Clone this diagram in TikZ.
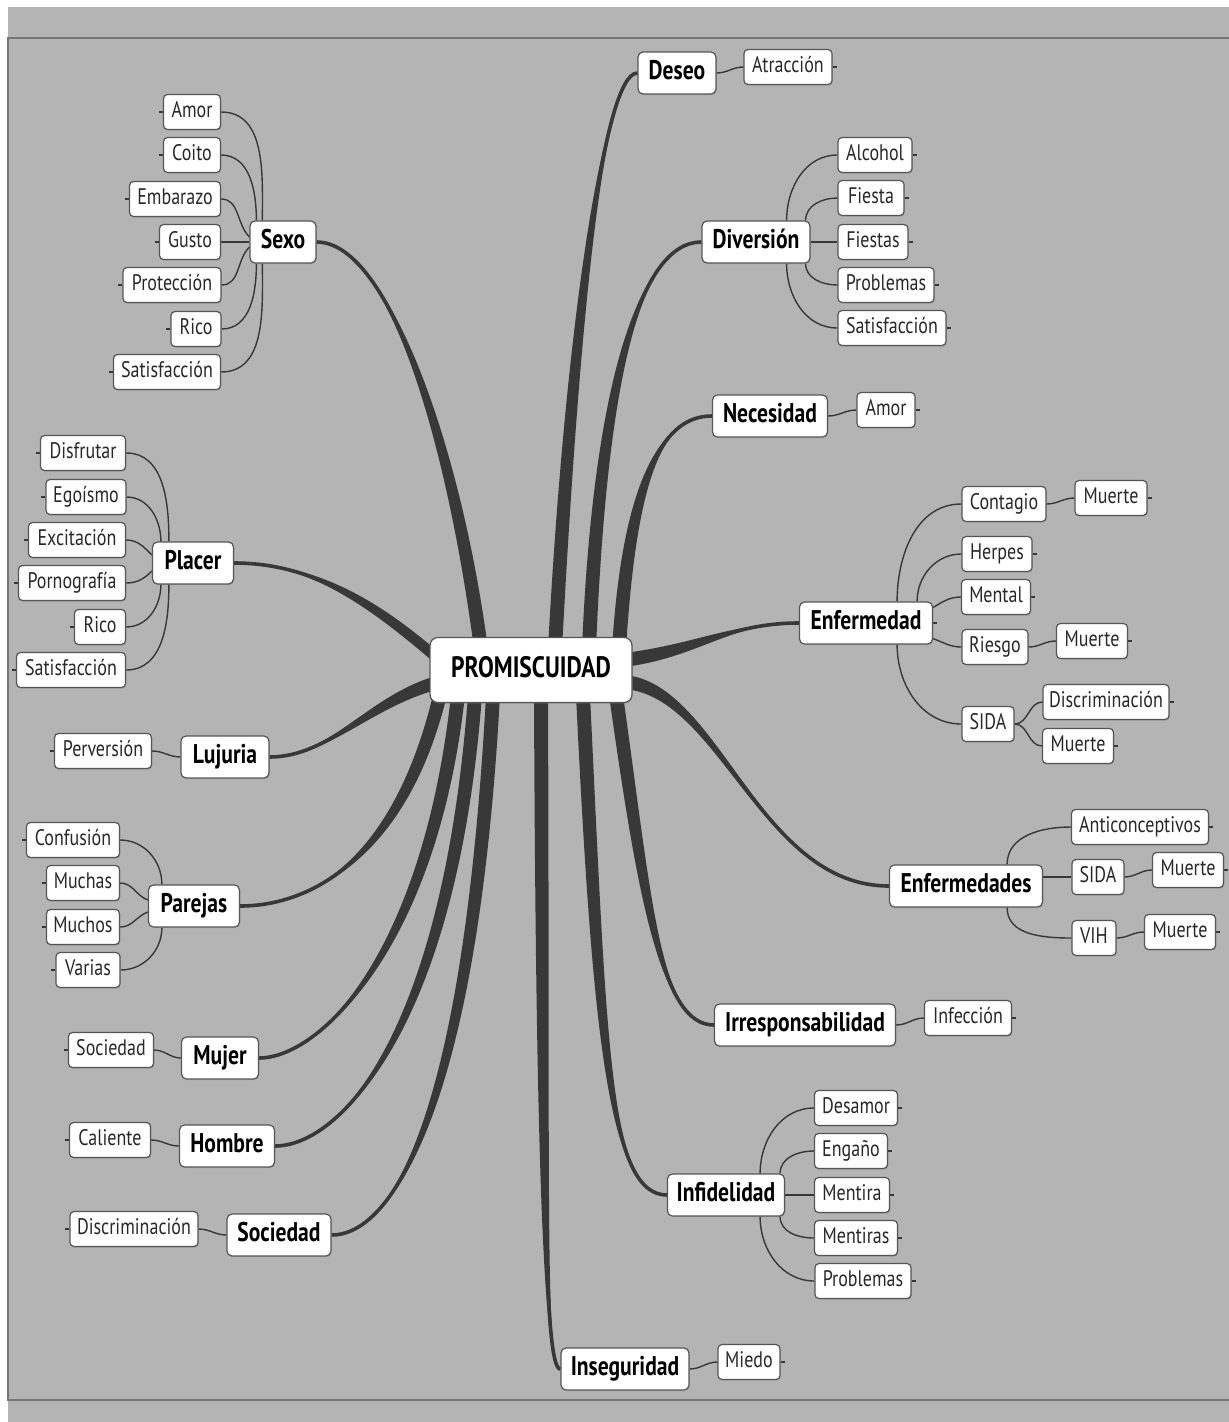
\documentclass[tikz,border=0pt]{standalone}
\usepackage{fontspec}
\newfontfamily\mapfont{PT Sans}[FakeStretch=0.8]
\usetikzlibrary{calc,shadows}
\definecolor{bgc}{RGB}{180,180,180}
\definecolor{framec}{RGB}{118,118,118}
\definecolor{brc}{RGB}{56,56,56}
\definecolor{boxc}{RGB}{85,85,85}
\definecolor{txtc}{RGB}{40,40,40}
\pgfdeclarelayer{back}\pgfdeclarelayer{bg}\pgfsetlayers{back,bg,main}
\tikzset{
 box/.style={draw=boxc, line width=1.2pt, fill=white, rounded corners=4pt, inner sep=0pt,
   drop shadow={shadow xshift=0.8pt, shadow yshift=-1.2pt, opacity=0.35}},
 leaf/.style={box, minimum height=35pt, font=\mapfont\fontsize{22.5}{24}\selectfont, text=txtc,
   text height=15pt, text depth=5pt, minimum width=#1pt},
 main/.style={box, minimum height=42pt, rounded corners=5pt, font=\mapfont\bfseries\fontsize{27}{30}\selectfont,
   text=black, text height=18pt, text depth=6pt, minimum width=#1pt},
 kid/.style={draw=brc, line width=1.4pt},
 tick/.style={draw=brc, line width=1.2pt},
}
\newcommand\branch[5]{%
  \fill[brc] ($#1+#5$) .. controls ($#2+#5$) and #3 .. #4 .. controls #3 and ($#2-#5$) .. ($#1-#5$) -- cycle;
  \draw[brc,line width=3.6pt] #1 .. controls #2 and #3 .. #4;
}
\begin{document}
\begin{tikzpicture}[x=1pt,y=1pt]
\useasboundingbox (0,0) rectangle (1229,-1422);
% center
\node[main=202, minimum height=65pt, rounded corners=8pt, text height=21pt, text depth=6pt,
  font=\mapfont\bfseries\fontsize{29.5}{32}\selectfont] (P) at (531,-670) {PROMISCUIDAD};
% right side
\node[main=78] (deseo) at (677,-73) {Deseo};
\node[leaf=88] (atr) at (788,-67) {Atracción};
\node[main=108] (div) at (756,-242) {Diversión};
\node[leaf=74] (alc) at (875,-155) {Alcohol};
\node[leaf=66] (fie) at (871,-198) {Fiesta};
\node[leaf=70] (fies) at (873,-242) {Fiestas};
\node[leaf=96] (prob1) at (886,-285) {Problemas};
\node[leaf=108] (sat1) at (892,-328) {Satisfacción};
\node[main=115] (nec) at (770,-416) {Necesidad};
\node[leaf=58] (amor1) at (886,-410) {Amor};
\node[main=133] (enf) at (866,-623) {Enfermedad};
\node[leaf=84] (cont) at (1004,-504) {Contagio};
\node[leaf=72] (mu1) at (1111,-498) {Muerte};
\node[leaf=70] (her) at (997,-554) {Herpes};
\node[leaf=69] (men) at (996,-597) {Mental};
\node[leaf=66] (rie) at (995,-647) {Riesgo};
\node[leaf=71] (mu2) at (1092,-641) {Muerte};
\node[leaf=52] (sida1) at (988,-724) {SIDA};
\node[leaf=126] (disc1) at (1106,-702) {Discriminación};
\node[leaf=71] (mu3) at (1078,-746) {Muerte};
\node[main=153] (enfs) at (966,-886) {Enfermedades};
\node[leaf=137] (anti) at (1140,-827) {Anticonceptivos};
\node[leaf=52] (sida2) at (1098,-877) {SIDA};
\node[leaf=71] (mu4) at (1188,-870) {Muerte};
\node[leaf=44] (vih) at (1094,-938) {VIH};
\node[leaf=71] (mu5) at (1180,-932) {Muerte};
\node[main=181] (irr) at (805,-1025) {Irresponsabilidad};
\node[leaf=87] (infe) at (968,-1018) {Infección};
\node[main=117] (infi) at (726,-1195) {Infidelidad};
\node[leaf=83] (desa) at (856,-1108) {Desamor};
\node[leaf=73] (enga) at (851,-1151) {Engaño};
\node[leaf=75] (ment) at (852,-1195) {Mentira};
\node[leaf=83] (ments) at (856,-1238) {Mentiras};
\node[leaf=96] (prob2) at (863,-1281) {Problemas};
\node[main=128] (inse) at (625,-1369) {Inseguridad};
\node[leaf=62] (mied) at (749,-1362) {Miedo};
% left side
\node[main=66] (sexo) at (283,-242) {Sexo};
\node[leaf=57] (amor2) at (192,-112) {Amor};
\node[leaf=57] (coit) at (192,-155) {Coito};
\node[leaf=91] (emba) at (175,-199) {Embarazo};
\node[leaf=61] (gust) at (190,-242) {Gusto};
\node[leaf=98] (prot) at (172,-285) {Protección};
\node[leaf=50] (rico1) at (196,-329) {Rico};
\node[leaf=107] (sat2) at (167,-372) {Satisfacción};
\node[main=81] (plac) at (193,-563) {Placer};
\node[leaf=85] (disf) at (83,-453) {Disfrutar};
\node[leaf=80] (egoi) at (86,-497) {Egoísmo};
\node[leaf=97] (exci) at (77,-540) {Excitación};
\node[leaf=107] (porn) at (72,-583) {Pornografía};
\node[leaf=51] (rico2) at (100,-627) {Rico};
\node[leaf=109] (sat3) at (71,-670) {Satisfacción};
\node[main=88] (luju) at (225,-757) {Lujuria};
\node[leaf=97] (perv) at (103,-751) {Perversión};
\node[main=91] (pare) at (194,-906) {Parejas};
\node[leaf=93] (conf) at (73,-840) {Confusión};
\node[leaf=73] (mucha) at (83,-883) {Muchas};
\node[leaf=73] (mucho) at (83,-927) {Muchos};
\node[leaf=64] (vari) at (88,-970) {Varias};
\node[main=77] (muje) at (220,-1058) {Mujer};
\node[leaf=85] (soc1) at (111,-1050) {Sociedad};
\node[main=95] (homb) at (227,-1146) {Hombre};
\node[leaf=81] (cali) at (110,-1140) {Caliente};
\node[main=104] (soci) at (279,-1235) {Sociedad};
\node[leaf=128] (disc2) at (134,-1229) {Discriminación};

% branch start points inside the centre box
\coordinate (bSexo) at ([xshift=-50pt,yshift=-12pt]P.north);
\coordinate (bDeseo) at ([xshift=24pt,yshift=-12pt]P.north);
\coordinate (bDiv) at ([xshift=58pt,yshift=-12pt]P.north);
\coordinate (bNec) at ([xshift=88pt,yshift=-12pt]P.north);
\coordinate (bEnf) at ([xshift=-8pt,yshift=10pt]P.east);
\coordinate (bEnfs) at ([xshift=-8pt,yshift=-12pt]P.east);
\coordinate (bIrr) at ([xshift=85pt,yshift=8pt]P.south);
\coordinate (bInfi) at ([xshift=52pt,yshift=8pt]P.south);
\coordinate (bInse) at ([xshift=10pt,yshift=8pt]P.south);
\coordinate (bPare) at ([xshift=-91pt,yshift=8pt]P.south);
\coordinate (bMuje) at ([xshift=-73pt,yshift=8pt]P.south);
\coordinate (bHomb) at ([xshift=-56pt,yshift=8pt]P.south);
\coordinate (bSoci) at ([xshift=-38pt,yshift=8pt]P.south);
\coordinate (bPlac) at ([xshift=10pt,yshift=10pt]P.west);
\coordinate (bLuju) at ([xshift=10pt,yshift=-12pt]P.west);

\begin{pgfonlayer}{back}
  \fill[bgc] (8,-7) rectangle (1229,-1422);
  \draw[framec, line width=2pt] (1229,-38) -- (8,-38) -- (8,-1400) -- (1229,-1400);
\end{pgfonlayer}

\begin{pgfonlayer}{bg}
  \branch{(bSexo)}{(455,-450)}{(390,-242)}{(sexo.east)}{(7,0)}
  \branch{(bDeseo)}{(572,-330)}{(603,-73)}{(deseo.west)}{(7,0)}
  \branch{(bDiv)}{(600,-380)}{(640,-242)}{(div.west)}{(7,0)}
  \branch{(bNec)}{(630,-470)}{(665,-416)}{(nec.west)}{(7,0)}
  \branch{(bEnf)}{(700,-650)}{(730,-623)}{(enf.west)}{(0,7)}
  \branch{(bEnfs)}{(720,-690)}{(760,-886)}{(enfs.west)}{(0,7)}
  \branch{(bIrr)}{(645,-900)}{(660,-1025)}{(irr.west)}{(7,0)}
  \branch{(bInfi)}{(600,-1050)}{(610,-1195)}{(infi.west)}{(7,0)}
  \branch{(bInse)}{(543,-1200)}{(545,-1369)}{(inse.west)}{(7,0)}
  \branch{(bPare)}{(400,-860)}{(310,-906)}{(pare.east)}{(7,0)}
  \branch{(bMuje)}{(430,-950)}{(320,-1058)}{(muje.east)}{(7,0)}
  \branch{(bHomb)}{(450,-1030)}{(340,-1146)}{(homb.east)}{(7,0)}
  \branch{(bSoci)}{(470,-1120)}{(390,-1235)}{(soci.east)}{(7,0)}
  \branch{(bPlac)}{(370,-600)}{(310,-563)}{(plac.east)}{(0,7)}
  \branch{(bLuju)}{(370,-700)}{(330,-757)}{(luju.east)}{(0,7)}

  % children of right-side topics
  \draw[kid] (deseo.east) to[out=0,in=180] (atr.west);
  \draw[kid] ([xshift=-24pt]div.north east) to[out=90,in=180] (alc.west);
  \draw[kid] ([xshift=-5pt]div.north east) to[out=90,in=180] (fie.west);
  \draw[kid] (div.east) -- (fies.west);
  \draw[kid] ([xshift=-5pt]div.south east) to[out=-90,in=180] (prob1.west);
  \draw[kid] ([xshift=-24pt]div.south east) to[out=-90,in=180] (sat1.west);
  \draw[kid] (nec.east) to[out=0,in=180] (amor1.west);
  \draw[kid] ([xshift=-36pt]enf.north east) to[out=90,in=180] (cont.west);
  \draw[kid] ([xshift=-16pt]enf.north east) to[out=90,in=180] (her.west);
  \draw[kid] ([yshift=-6pt]enf.north east) to[out=30,in=180] (men.west);
  \draw[kid] ([yshift=6pt]enf.south east) to[out=-20,in=180] (rie.west);
  \draw[kid] ([xshift=-36pt]enf.south east) to[out=-90,in=180] (sida1.west);
  \draw[kid] (cont.east) to[out=0,in=180] (mu1.west);
  \draw[kid] (rie.east) to[out=0,in=180] (mu2.west);
  \draw[kid] (sida1.east) to[out=0,in=180] (disc1.west);
  \draw[kid] (sida1.east) to[out=0,in=180] (mu3.west);
  \draw[kid] ([xshift=-36pt]enfs.north east) to[out=90,in=180] (anti.west);
  \draw[kid] (enfs.east |- sida2.west) -- (sida2.west);
  \draw[kid] ([xshift=-36pt]enfs.south east) to[out=-90,in=180] (vih.west);
  \draw[kid] (sida2.east) to[out=0,in=180] (mu4.west);
  \draw[kid] (vih.east) to[out=0,in=180] (mu5.west);
  \draw[kid] (irr.east) to[out=0,in=180] (infe.west);
  \draw[kid] ([xshift=-25pt]infi.north east) to[out=90,in=180] (desa.west);
  \draw[kid] ([xshift=-5pt]infi.north east) to[out=90,in=180] (enga.west);
  \draw[kid] (infi.east) -- (ment.west);
  \draw[kid] ([xshift=-5pt]infi.south east) to[out=-90,in=180] (ments.west);
  \draw[kid] ([xshift=-25pt]infi.south east) to[out=-90,in=180] (prob2.west);
  \draw[kid] (inse.east) to[out=0,in=180] (mied.west);
  % children of left-side topics
  \draw[kid] ([xshift=13pt]sexo.north west) to[out=90,in=0] (amor2.east);
  \draw[kid] ([xshift=7pt]sexo.north west) to[out=90,in=0] (coit.east);
  \draw[kid] ([yshift=5pt]sexo.west) to[out=135,in=0] (emba.east);
  \draw[kid] (sexo.west) -- (gust.east);
  \draw[kid] ([yshift=-5pt]sexo.west) to[out=-135,in=0] (prot.east);
  \draw[kid] ([xshift=7pt]sexo.south west) to[out=-90,in=0] (rico1.east);
  \draw[kid] ([xshift=13pt]sexo.south west) to[out=-90,in=0] (sat2.east);
  \draw[kid] ([xshift=17pt]plac.north west) to[out=90,in=0] (disf.east);
  \draw[kid] ([xshift=9pt]plac.north west) to[out=90,in=0] (egoi.east);
  \draw[kid] ([yshift=8pt]plac.west) to[out=135,in=0] (exci.east);
  \draw[kid] ([yshift=-8pt]plac.west) to[out=-135,in=0] (porn.east);
  \draw[kid] ([xshift=9pt]plac.south west) to[out=-90,in=0] (rico2.east);
  \draw[kid] ([xshift=17pt]plac.south west) to[out=-90,in=0] (sat3.east);
  \draw[kid] (luju.west) to[out=180,in=0] (perv.east);
  \draw[kid] ([xshift=14pt]pare.north west) to[out=90,in=0] (conf.east);
  \draw[kid] ([yshift=6pt]pare.west) to[out=160,in=0] (mucha.east);
  \draw[kid] ([yshift=-6pt]pare.west) to[out=-160,in=0] (mucho.east);
  \draw[kid] ([xshift=14pt]pare.south west) to[out=-90,in=0] (vari.east);
  \draw[kid] (muje.west) to[out=180,in=0] (soc1.east);
  \draw[kid] (homb.west) to[out=180,in=0] (cali.east);
  \draw[kid] (soci.west) to[out=180,in=0] (disc2.east);

  % collapse ticks
  \foreach \n in {atr,alc,fie,fies,prob1,sat1,amor1,mu1,her,men,mu2,disc1,mu3,anti,mu4,mu5,infe,desa,enga,ment,ments,prob2,mied,enf}
    \draw[tick] (\n.east) -- ++(4,0);
  \foreach \n in {amor2,coit,emba,gust,prot,rico1,sat2,disf,egoi,exci,porn,rico2,sat3,perv,conf,mucha,mucho,vari,soc1,cali,disc2}
    \draw[tick] (\n.west) -- ++(-4,0);
\end{pgfonlayer}
\end{tikzpicture}
\end{document}
